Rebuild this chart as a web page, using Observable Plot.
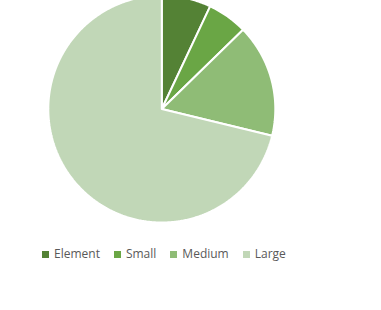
<!DOCTYPE html>
<html>
<head>
<meta charset="utf-8">
<script src="https://cdn.jsdelivr.net/npm/d3@7"></script>
<script src="https://cdn.jsdelivr.net/npm/@observablehq/plot@0.6"></script>
<style>
  html, body { margin: 0; padding: 0; background: #fff; }
  #wrap { position: relative; width: 381px; height: 310px; overflow: hidden; }
  #legend { position: absolute; top: 246px; left: 42px; display: flex; align-items: center;
            font-family: "Open Sans", "Liberation Sans", sans-serif; font-size: 12px; color: #595959; line-height: 16px; white-space: nowrap; }
  #legend .item { display: flex; align-items: center; margin-right: 14px; }
  #legend .sw { width: 7px; height: 7px; margin-right: 5px; }
</style>
</head>
<body>
<div id="wrap"></div>
<script>
const categories = ["Element", "Small", "Medium", "Large"];
const values = [7.0, 5.7, 16.1, 71.2];
const colors = ["#548235", "#6AA645", "#8FBC76", "#C1D7B7"];

// build slice outlines from the values (angles measured clockwise from 12 o'clock)
const total = d3.sum(values);
const rows = [];
let acc = 0;
categories.forEach((cat, i) => {
  const a0 = acc / total * 2 * Math.PI;
  acc += values[i];
  const a1 = acc / total * 2 * Math.PI;
  const n = Math.max(2, Math.ceil((a1 - a0) / (Math.PI / 360)));
  rows.push({cat, x: 0, y: 0});
  for (let k = 0; k <= n; k++) {
    const a = a0 + (a1 - a0) * k / n;
    rows.push({cat, x: Math.sin(a), y: Math.cos(a)});
  }
  rows.push({cat, x: 0, y: 0});
});

const cx = 161.3, cy = 108.5, r = 113.5;
const chart = Plot.plot({
  width: 381,
  height: 240,
  margin: 0,
  x: {domain: [-1, 1], range: [cx - r, cx + r], axis: null},
  y: {domain: [-1, 1], range: [cy + r, cy - r], axis: null},
  color: {domain: categories, range: colors},
  marks: [
    Plot.line(rows, {x: "x", y: "y", z: "cat", fill: "cat", stroke: "white", strokeWidth: 2, strokeLinejoin: "miter", curve: "linear"})
  ]
});
const wrap = document.getElementById("wrap");
wrap.appendChild(chart);

const legend = document.createElement("div");
legend.id = "legend";
const color = chart.scale("color");
categories.forEach((cat, i) => {
  const item = document.createElement("div");
  item.className = "item";
  const sw = document.createElement("span");
  sw.className = "sw";
  sw.style.background = color.range[i];
  const t = document.createElement("span");
  t.textContent = cat;
  item.appendChild(sw);
  item.appendChild(t);
  legend.appendChild(item);
});
wrap.appendChild(legend);
</script>
</body>
</html>
